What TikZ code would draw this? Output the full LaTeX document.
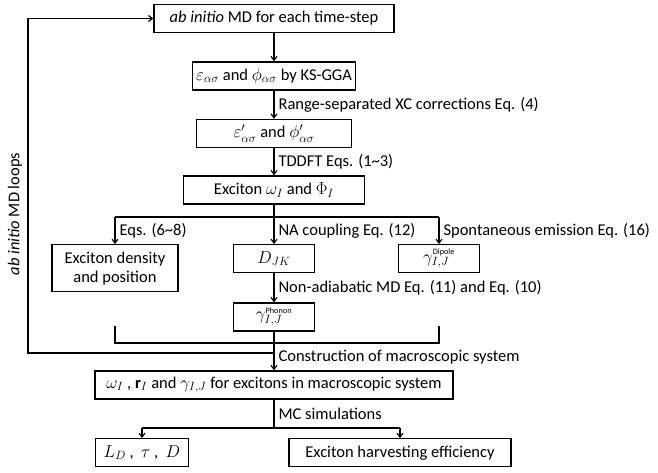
\documentclass[tikz,border=0pt]{standalone}
\usepackage{fontspec}
\setmainfont{Carlito}
\usetikzlibrary{arrows.meta}

\tikzset{
    box/.style={draw, line width=1.4pt, minimum height=28pt, inner sep=2pt, font=\fontsize{16.5}{19}\selectfont},
    lbl/.style={anchor=west, inner sep=1pt, xshift=3pt, font=\fontsize{16.5}{19}\selectfont},
    con/.style={line width=1.1pt},
    arr/.style={con, -{Straight Barb[length=4pt,width=6pt]}},
}

\begin{document}
\begin{tikzpicture}[x=1pt, y=-1pt]
    \useasboundingbox (0,0) rectangle (658,472);
    \node[box, minimum width=240pt] (md) at (274,18.5) {\textit{ab initio} MD for each time-step};
    \node[box, minimum width=163pt] (ks) at (274,76) {$\varepsilon_{\alpha\sigma}$ and $\phi_{\alpha\sigma}$ by KS-GGA};
    \node[box, minimum width=155pt] (xc) at (274,133.5) {$\varepsilon'_{\alpha\sigma}$ and $\phi'_{\alpha\sigma}$};
    \node[box, minimum width=181pt] (exc) at (274,190) {Exciton $\omega_I$ and $\Phi_I$};
    \node[box, minimum width=126pt, minimum height=47pt, align=center, anchor=north] (dens) at (115,244) {Exciton density\\and position};
    \node[box, minimum width=81pt, anchor=north] (djk) at (274,244) {$D_{JK}$};
    \node[box, minimum width=81pt, anchor=north] (dip) at (439,244) {$\gamma^{\scriptscriptstyle\mathrm{Dipole}}_{I,J}$};
    \node[box, minimum width=81pt] (phon) at (274,317) {$\gamma^{\scriptscriptstyle\mathrm{Phonon}}_{I,J}$};
    \node[box, minimum width=358pt] (mac) at (274,385) {$\omega_I$ , $\mathbf{r}_I$ and $\gamma_{I,J}$ for excitons in macroscopic system};
    \node[box, minimum width=93pt, anchor=north] (ld) at (142,438) {$L_D$ ,\ \ $\tau$ ,\ \ $D$};
    \node[box, minimum width=222pt, anchor=north] (harv) at (400,438) {Exciton harvesting efficiency};
    \node[rotate=90, font=\fontsize{16.5}{19}\selectfont] (loops) at (15,214) {\textit{ab initio} MD loops};

    \coordinate (br) at (274,217);
    \coordinate (bl) at (115,326);
    \coordinate (bt) at (439,326);
    \coordinate (jn) at (274,343);
    \coordinate (lp) at (274,353);
    \coordinate (lc) at (28,353);
    \coordinate (mc) at (274,428);

    \draw[arr] (md) -- (ks);
    \draw[arr] (ks) -- node[lbl] {Range-separated XC corrections Eq. (4)} (xc);
    \draw[arr] (xc) -- node[lbl] {TDDFT Eqs. (1\textasciitilde3)} (exc);
    \draw[con] (exc) -- (br);
    \draw[con] (dens.north |- br) -- (dip.north |- br);
    \foreach \n/\t in {dens/{Eqs. (6\textasciitilde8)}, djk/{NA coupling Eq. (12)}, dip/{Spontaneous emission Eq. (16)}} {
        \draw[arr] (\n.north |- br) -- node[lbl] {\t} (\n.north);
    }
    \draw[arr] (djk) -- node[lbl] {Non-adiabatic MD Eq. (11) and Eq. (10)} (phon);
    \draw[con] (bl) |- (jn) -| (bt);
    \draw[con] (phon) -- (jn);
    \draw[arr] (jn) -- node[lbl] {Construction of macroscopic system} (mac);
    \draw[arr] (lp) -- (lc) |- (md.west);
    \draw[con] (mac) -- node[lbl] {MC simulations} (mc);
    \draw[con] (ld.north |- mc) -- (harv.north |- mc);
    \foreach \n in {ld, harv} {
        \draw[arr] (\n.north |- mc) -- (\n.north);
    }
\end{tikzpicture}
\end{document}
